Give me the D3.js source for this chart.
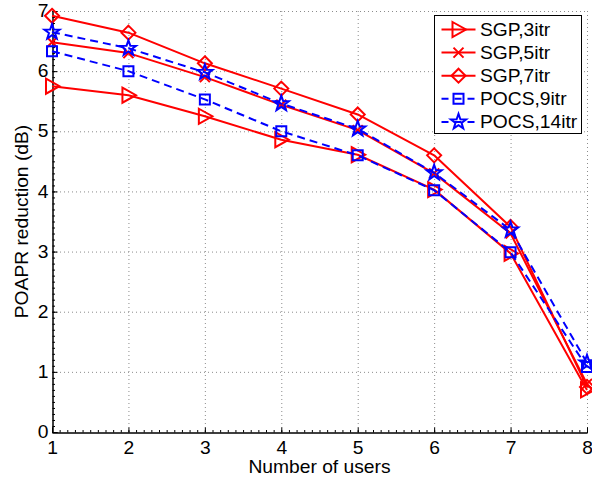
<!DOCTYPE html>
<html>
<head>
<meta charset="utf-8">
<script src="https://cdn.jsdelivr.net/npm/d3@7"></script>
<style>
  html, body { margin: 0; padding: 0; background: #fff; }
  svg { display: block; font-family: "Liberation Sans", Arial, Helvetica, sans-serif; }
</style>
</head>
<body>
<svg id="chart" width="592" height="480"></svg>
<script>
// Number of users on the x axis
const users = [1, 2, 3, 4, 5, 6, 7, 8];

// POAPR reduction (dB) per algorithm / iteration count
const sgp3   = [5.75, 5.60, 5.25, 4.86, 4.61, 4.03, 2.97, 0.70];
const sgp5   = [6.48, 6.30, 5.90, 5.44, 5.02, 4.30, 3.30, 0.80];
const sgp7   = [6.92, 6.64, 6.13, 5.71, 5.28, 4.60, 3.41, 0.75];
const pocs9  = [6.33, 6.00, 5.53, 5.00, 4.60, 4.02, 2.99, 1.08];
const pocs14 = [6.65, 6.38, 5.98, 5.46, 5.04, 4.31, 3.36, 1.15];

const xTicks = [1, 2, 3, 4, 5, 6, 7, 8];
const yTicks = [0, 1, 2, 3, 4, 5, 6, 7];

const seriesNames = ["SGP,3itr", "SGP,5itr", "SGP,7itr", "POCS,9itr", "POCS,14itr"];
const seriesValues = [sgp3, sgp5, sgp7, pocs9, pocs14];
const seriesColors = ["#ff0000", "#ff0000", "#ff0000", "#0000ff", "#0000ff"];
const seriesDash = [null, null, null, "8,5", "8,5"];
const seriesMarker = ["triangle", "cross", "diamond", "square", "star"];

const W = 592, H = 480;
const margin = { left: 52, right: 5, top: 11, bottom: 48 };
const FS = 17.5;      // text size
const SX = 1.1;       // horizontal stretch of the lettering
const svg = d3.select("#chart");

const x = d3.scaleLinear().domain([1, 8]).range([margin.left, W - margin.right]);
const y = d3.scaleLinear().domain([0, 7]).range([H - margin.bottom, margin.top]);

// dotted grid at the major ticks
const grid = svg.append("g").attr("stroke", "#8c8c8c").attr("stroke-width", 1)
  .attr("stroke-dasharray", "1,3").attr("fill", "none");
xTicks.slice(1).forEach(t => {
  grid.append("line").attr("x1", x(t) + 0.5).attr("x2", x(t) + 0.5)
    .attr("y1", y(0)).attr("y2", y(7));
});
yTicks.slice(1).forEach(t => {
  grid.append("line").attr("x1", x(1)).attr("x2", x(8))
    .attr("y1", y(t) + 0.5).attr("y2", y(t) + 0.5);
});

// axes: major ticks pointing inward, plus minor ticks every 0.1
const xAxis = d3.axisBottom(x).tickValues(xTicks).tickSize(-5).tickPadding(9).tickFormat(d3.format("d"));
const yAxis = d3.axisLeft(y).tickValues(yTicks).tickSize(-5).tickPadding(4).tickFormat(d3.format("d"));
const xMinor = d3.axisBottom(x).tickValues(d3.range(10, 81).map(v => v / 10)).tickSize(-2.5).tickFormat("");
const yMinor = d3.axisLeft(y).tickValues(d3.range(0, 71).map(v => v / 10)).tickSize(-2.5).tickFormat("");

function styleAxis(g) {
  g.select(".domain").attr("stroke", "#000").attr("stroke-width", 1);
  g.selectAll(".tick line").attr("stroke", "#000").attr("stroke-width", 1);
  g.selectAll(".tick text").attr("fill", "#000").attr("font-size", FS)
    .attr("font-family", "'Liberation Sans', Arial, sans-serif")
    .each(function () {
      const t = d3.select(this);
      const x0 = +t.attr("x") || 0;
      t.attr("x", x0 / SX).attr("transform", `scale(${SX},1)`);
    });
}
svg.append("g").attr("transform", `translate(0,${y(0) + 0.5})`).call(xMinor).call(styleAxis);
svg.append("g").attr("transform", `translate(${x(1) + 0.5},0)`).call(yMinor).call(styleAxis);
svg.append("g").attr("transform", `translate(0,${y(0) + 0.5})`).call(xAxis).call(styleAxis);
svg.append("g").attr("transform", `translate(${x(1) + 0.5},0)`).call(yAxis).call(styleAxis);

// axis titles
svg.append("text").attr("transform", `translate(${(x(1) + x(8)) / 2},473) scale(${SX},1)`)
  .attr("text-anchor", "middle").attr("font-size", FS).text("Number of users");
svg.append("text").attr("transform", `translate(28,${(y(0) + y(7)) / 2}) rotate(-90) scale(${SX},1)`)
  .attr("text-anchor", "middle").attr("font-size", FS).text("POAPR reduction (dB)");

// marker shapes (open outlines)
function markerPath(kind) {
  switch (kind) {
    case "triangle": return "M-6,-7.5L7.5,0L-6,7.5Z";
    case "cross": return "M-5,-5L5,5M-5,5L5,-5";
    case "diamond": return "M0,-7L7,0L0,7L-7,0Z";
    case "square": return "M-5,-5L5,-5L5,5L-5,5Z";
    case "star": {
      const pts = [];
      for (let i = 0; i < 10; i++) {
        const r = i % 2 === 0 ? 8 : 3.2;
        const a = -Math.PI / 2 + i * Math.PI / 5;
        pts.push([r * Math.cos(a), r * Math.sin(a)]);
      }
      return "M" + pts.map(p => p.join(",")).join("L") + "Z";
    }
  }
}

const line = d3.line().x((d, i) => x(users[i])).y(d => y(d));

seriesValues.forEach((vals, s) => {
  const g = svg.append("g");
  g.append("path").datum(vals).attr("d", line)
    .attr("fill", "none").attr("stroke", seriesColors[s]).attr("stroke-width", 2)
    .attr("stroke-dasharray", seriesDash[s]).attr("stroke-linejoin", "round");
  g.selectAll("path.mk").data(vals).enter().append("path").attr("class", "mk")
    .attr("transform", (d, i) => `translate(${x(users[i])},${y(d)})`)
    .attr("d", markerPath(seriesMarker[s]))
    .attr("fill", "none").attr("stroke", seriesColors[s]).attr("stroke-width", 2)
    .attr("stroke-linejoin", "miter");
});

// legend
const lg = svg.append("g").attr("transform", "translate(434.5,15.5)");
lg.append("rect").attr("width", 147).attr("height", 118)
  .attr("fill", "#fff").attr("stroke", "#000").attr("stroke-width", 1);
seriesNames.forEach((name, s) => {
  const cy = 14 + s * 23.1;
  lg.append("line").attr("x1", 7).attr("x2", 41).attr("y1", cy).attr("y2", cy)
    .attr("stroke", seriesColors[s]).attr("stroke-width", 2)
    .attr("stroke-dasharray", seriesDash[s] ? "7,6" : null);
  lg.append("path").attr("transform", `translate(24,${cy})`).attr("d", markerPath(seriesMarker[s]))
    .attr("fill", "none").attr("stroke", seriesColors[s]).attr("stroke-width", 2);
  lg.append("text").attr("transform", `translate(45.5,${cy + 6}) scale(${SX},1)`)
    .attr("font-size", FS).attr("fill", "#000").text(name);
});
</script>
</body>
</html>
